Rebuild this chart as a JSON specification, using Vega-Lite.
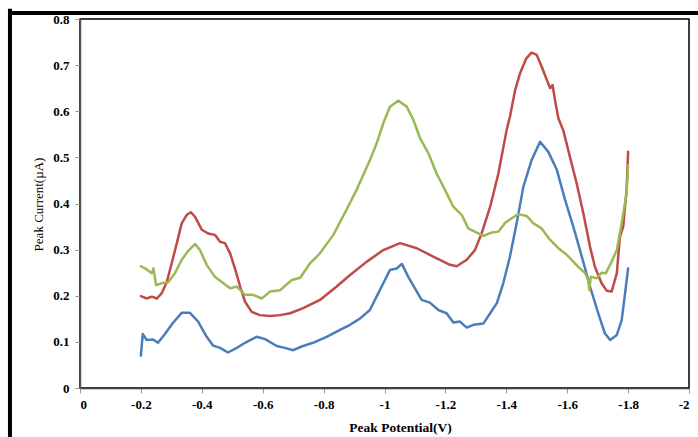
{
 "$schema": "https://vega.github.io/schema/vega-lite/v6.json",
 "width": 609,
 "height": 369,
 "autosize": {"type": "none"},
 "padding": {"left": 80, "top": 19, "right": 9, "bottom": 49},
 "background": "white",
 "config": {"view": {"stroke": "black", "strokeWidth": 1.5}, "font": "Liberation Serif"},
 "datasets": {
  "curves": [
   {"s":"blue","x":-0.200,"y":0.070},{"s":"blue","x":-0.206,"y":0.117},{"s":"blue","x":-0.219,"y":0.104},{"s":"blue","x":-0.240,"y":0.105},{"s":"blue","x":-0.256,"y":0.098},{"s":"blue","x":-0.279,"y":0.117},{"s":"blue","x":-0.305,"y":0.141},{"s":"blue","x":-0.334,"y":0.163},{"s":"blue","x":-0.361,"y":0.163},{"s":"blue","x":-0.388,"y":0.144},{"s":"blue","x":-0.416,"y":0.111},{"s":"blue","x":-0.437,"y":0.092},{"s":"blue","x":-0.460,"y":0.087},{"s":"blue","x":-0.486,"y":0.077},{"s":"blue","x":-0.515,"y":0.087},{"s":"blue","x":-0.542,"y":0.098},{"s":"blue","x":-0.580,"y":0.111},{"s":"blue","x":-0.608,"y":0.106},{"s":"blue","x":-0.646,"y":0.091},{"s":"blue","x":-0.673,"y":0.087},{"s":"blue","x":-0.700,"y":0.082},{"s":"blue","x":-0.728,"y":0.090},{"s":"blue","x":-0.765,"y":0.098},{"s":"blue","x":-0.810,"y":0.111},{"s":"blue","x":-0.854,"y":0.126},{"s":"blue","x":-0.887,"y":0.137},{"s":"blue","x":-0.920,"y":0.151},{"s":"blue","x":-0.952,"y":0.169},{"s":"blue","x":-0.974,"y":0.198},{"s":"blue","x":-0.996,"y":0.227},{"s":"blue","x":-1.018,"y":0.256},{"s":"blue","x":-1.040,"y":0.259},{"s":"blue","x":-1.057,"y":0.269},{"s":"blue","x":-1.078,"y":0.241},{"s":"blue","x":-1.100,"y":0.216},{"s":"blue","x":-1.122,"y":0.191},{"s":"blue","x":-1.149,"y":0.185},{"s":"blue","x":-1.177,"y":0.169},{"s":"blue","x":-1.204,"y":0.162},{"s":"blue","x":-1.226,"y":0.142},{"s":"blue","x":-1.248,"y":0.144},{"s":"blue","x":-1.270,"y":0.131},{"s":"blue","x":-1.292,"y":0.137},{"s":"blue","x":-1.325,"y":0.140},{"s":"blue","x":-1.347,"y":0.162},{"s":"blue","x":-1.369,"y":0.184},{"s":"blue","x":-1.390,"y":0.227},{"s":"blue","x":-1.412,"y":0.285},{"s":"blue","x":-1.434,"y":0.357},{"s":"blue","x":-1.456,"y":0.436},{"s":"blue","x":-1.483,"y":0.494},{"s":"blue","x":-1.511,"y":0.534},{"s":"blue","x":-1.538,"y":0.512},{"s":"blue","x":-1.566,"y":0.473},{"s":"blue","x":-1.593,"y":0.408},{"s":"blue","x":-1.620,"y":0.350},{"s":"blue","x":-1.648,"y":0.285},{"s":"blue","x":-1.675,"y":0.220},{"s":"blue","x":-1.702,"y":0.162},{"s":"blue","x":-1.724,"y":0.118},{"s":"blue","x":-1.741,"y":0.104},{"s":"blue","x":-1.763,"y":0.115},{"s":"blue","x":-1.779,"y":0.147},{"s":"blue","x":-1.790,"y":0.205},{"s":"blue","x":-1.800,"y":0.259},
   {"s":"red","x":-0.200,"y":0.199},{"s":"red","x":-0.219,"y":0.194},{"s":"red","x":-0.236,"y":0.198},{"s":"red","x":-0.252,"y":0.194},{"s":"red","x":-0.268,"y":0.205},{"s":"red","x":-0.285,"y":0.230},{"s":"red","x":-0.301,"y":0.270},{"s":"red","x":-0.318,"y":0.314},{"s":"red","x":-0.334,"y":0.357},{"s":"red","x":-0.350,"y":0.375},{"s":"red","x":-0.364,"y":0.381},{"s":"red","x":-0.378,"y":0.371},{"s":"red","x":-0.400,"y":0.343},{"s":"red","x":-0.421,"y":0.335},{"s":"red","x":-0.443,"y":0.332},{"s":"red","x":-0.460,"y":0.317},{"s":"red","x":-0.476,"y":0.314},{"s":"red","x":-0.493,"y":0.292},{"s":"red","x":-0.509,"y":0.259},{"s":"red","x":-0.526,"y":0.220},{"s":"red","x":-0.542,"y":0.187},{"s":"red","x":-0.564,"y":0.165},{"s":"red","x":-0.591,"y":0.158},{"s":"red","x":-0.624,"y":0.156},{"s":"red","x":-0.657,"y":0.158},{"s":"red","x":-0.690,"y":0.162},{"s":"red","x":-0.733,"y":0.173},{"s":"red","x":-0.788,"y":0.191},{"s":"red","x":-0.843,"y":0.220},{"s":"red","x":-0.887,"y":0.245},{"s":"red","x":-0.942,"y":0.274},{"s":"red","x":-0.996,"y":0.299},{"s":"red","x":-1.051,"y":0.314},{"s":"red","x":-1.106,"y":0.303},{"s":"red","x":-1.160,"y":0.285},{"s":"red","x":-1.215,"y":0.267},{"s":"red","x":-1.237,"y":0.264},{"s":"red","x":-1.270,"y":0.278},{"s":"red","x":-1.297,"y":0.299},{"s":"red","x":-1.319,"y":0.335},{"s":"red","x":-1.347,"y":0.393},{"s":"red","x":-1.374,"y":0.465},{"s":"red","x":-1.401,"y":0.559},{"s":"red","x":-1.412,"y":0.588},{"s":"red","x":-1.429,"y":0.646},{"s":"red","x":-1.445,"y":0.682},{"s":"red","x":-1.465,"y":0.714},{"s":"red","x":-1.483,"y":0.727},{"s":"red","x":-1.500,"y":0.722},{"s":"red","x":-1.516,"y":0.697},{"s":"red","x":-1.533,"y":0.668},{"s":"red","x":-1.544,"y":0.650},{"s":"red","x":-1.552,"y":0.657},{"s":"red","x":-1.560,"y":0.624},{"s":"red","x":-1.571,"y":0.585},{"s":"red","x":-1.587,"y":0.559},{"s":"red","x":-1.609,"y":0.501},{"s":"red","x":-1.631,"y":0.444},{"s":"red","x":-1.653,"y":0.379},{"s":"red","x":-1.675,"y":0.306},{"s":"red","x":-1.691,"y":0.263},{"s":"red","x":-1.713,"y":0.227},{"s":"red","x":-1.730,"y":0.211},{"s":"red","x":-1.746,"y":0.209},{"s":"red","x":-1.763,"y":0.249},{"s":"red","x":-1.773,"y":0.328},{"s":"red","x":-1.784,"y":0.350},{"s":"red","x":-1.795,"y":0.429},{"s":"red","x":-1.800,"y":0.512},
   {"s":"green","x":-0.200,"y":0.264},{"s":"green","x":-0.219,"y":0.257},{"s":"green","x":-0.236,"y":0.249},{"s":"green","x":-0.241,"y":0.259},{"s":"green","x":-0.250,"y":0.223},{"s":"green","x":-0.268,"y":0.227},{"s":"green","x":-0.290,"y":0.230},{"s":"green","x":-0.312,"y":0.249},{"s":"green","x":-0.334,"y":0.278},{"s":"green","x":-0.356,"y":0.298},{"s":"green","x":-0.378,"y":0.312},{"s":"green","x":-0.394,"y":0.299},{"s":"green","x":-0.416,"y":0.267},{"s":"green","x":-0.443,"y":0.241},{"s":"green","x":-0.471,"y":0.227},{"s":"green","x":-0.493,"y":0.216},{"s":"green","x":-0.515,"y":0.220},{"s":"green","x":-0.542,"y":0.202},{"s":"green","x":-0.569,"y":0.202},{"s":"green","x":-0.597,"y":0.194},{"s":"green","x":-0.624,"y":0.209},{"s":"green","x":-0.657,"y":0.212},{"s":"green","x":-0.695,"y":0.234},{"s":"green","x":-0.723,"y":0.239},{"s":"green","x":-0.755,"y":0.270},{"s":"green","x":-0.788,"y":0.292},{"s":"green","x":-0.832,"y":0.332},{"s":"green","x":-0.870,"y":0.380},{"s":"green","x":-0.908,"y":0.429},{"s":"green","x":-0.930,"y":0.462},{"s":"green","x":-0.952,"y":0.494},{"s":"green","x":-0.974,"y":0.530},{"s":"green","x":-0.996,"y":0.574},{"s":"green","x":-1.018,"y":0.610},{"s":"green","x":-1.045,"y":0.623},{"s":"green","x":-1.073,"y":0.610},{"s":"green","x":-1.095,"y":0.581},{"s":"green","x":-1.117,"y":0.541},{"s":"green","x":-1.144,"y":0.509},{"s":"green","x":-1.171,"y":0.465},{"s":"green","x":-1.199,"y":0.429},{"s":"green","x":-1.226,"y":0.393},{"s":"green","x":-1.254,"y":0.375},{"s":"green","x":-1.275,"y":0.346},{"s":"green","x":-1.303,"y":0.337},{"s":"green","x":-1.325,"y":0.330},{"s":"green","x":-1.352,"y":0.337},{"s":"green","x":-1.374,"y":0.339},{"s":"green","x":-1.396,"y":0.358},{"s":"green","x":-1.418,"y":0.368},{"s":"green","x":-1.439,"y":0.377},{"s":"green","x":-1.467,"y":0.373},{"s":"green","x":-1.489,"y":0.357},{"s":"green","x":-1.516,"y":0.346},{"s":"green","x":-1.544,"y":0.321},{"s":"green","x":-1.571,"y":0.303},{"s":"green","x":-1.598,"y":0.289},{"s":"green","x":-1.620,"y":0.274},{"s":"green","x":-1.642,"y":0.259},{"s":"green","x":-1.659,"y":0.249},{"s":"green","x":-1.669,"y":0.234},{"s":"green","x":-1.673,"y":0.212},{"s":"green","x":-1.677,"y":0.241},{"s":"green","x":-1.697,"y":0.238},{"s":"green","x":-1.713,"y":0.250},{"s":"green","x":-1.727,"y":0.249},{"s":"green","x":-1.746,"y":0.274},{"s":"green","x":-1.763,"y":0.299},{"s":"green","x":-1.779,"y":0.357},{"s":"green","x":-1.795,"y":0.422},{"s":"green","x":-1.800,"y":0.483}
  ],
  "frame": [
   {"part":"top","x":0.23,"x2":-2.3,"y":0.813,"y2":0.813},
   {"part":"left","x":0.23,"x2":0.23,"y":0.822,"y2":-0.13}
  ]
 },
 "layer": [
  {
   "data": {"name": "frame"},
   "mark": {"type": "rule", "color": "black", "strokeWidth": 4, "clip": false},
   "encoding": {
    "x": {"field": "x", "type": "quantitative", "scale": {"domain": [-2, 0], "reverse": true, "nice": false, "zero": false}, "title": "Peak Potential(V)"},
    "x2": {"field": "x2"},
    "y": {"field": "y", "type": "quantitative", "scale": {"domain": [0, 0.8], "nice": false}, "title": "Peak Current(µA)"},
    "y2": {"field": "y2"}
   }
  },
  {
   "data": {"name": "curves"},
   "mark": {"type": "line", "strokeWidth": 2.5, "strokeJoin": "round", "strokeCap": "round"},
   "encoding": {
    "x": {
     "field": "x", "type": "quantitative",
     "scale": {"domain": [-2, 0], "reverse": true, "nice": false, "zero": false},
     "title": "Peak Potential(V)",
     "axis": {
      "values": [0, -0.2, -0.4, -0.6, -0.8, -1, -1.2, -1.4, -1.6, -1.8, -2],
      "labelExpr": "datum.value == 0 ? '0' : '-' + format(-datum.value, '.1~f')",
      "grid": false,
      "domainColor": "#404040", "domainWidth": 1.5,
      "tickColor": "#999999", "tickSize": 5,
      "labelFont": "Liberation Serif", "labelFontWeight": "bold", "labelFontSize": 13, "labelColor": "black", "labelPadding": 5,
      "titleFont": "Liberation Serif", "titleFontWeight": "bold", "titleFontSize": 13.5, "titleColor": "black",
      "titleX": 320, "titleY": 43, "titleBaseline": "alphabetic", "titleAnchor": "middle"
     }
    },
    "y": {
     "field": "y", "type": "quantitative",
     "scale": {"domain": [0, 0.8], "nice": false},
     "title": "Peak Current(µA)",
     "axis": {
      "values": [0, 0.1, 0.2, 0.3, 0.4, 0.5, 0.6, 0.7, 0.8],
      "format": ".1~f",
      "grid": false,
      "domainColor": "#555555", "domainWidth": 1.5,
      "tickColor": "#999999", "tickSize": 5,
      "labelFont": "Liberation Serif", "labelFontWeight": "bold", "labelFontSize": 13, "labelColor": "black", "labelPadding": 6,
      "titleFont": "Liberation Serif", "titleFontWeight": "normal", "titleFontSize": 13, "titleColor": "black",
      "titleX": -42, "titleY": 185, "titleBaseline": "middle", "titleAngle": -90
     }
    },
    "color": {"field": "s", "type": "nominal", "scale": {"domain": ["blue", "red", "green"], "range": ["#4A7EBB", "#BE4B48", "#98B954"]}, "legend": null}
   }
  }
 ]
}
